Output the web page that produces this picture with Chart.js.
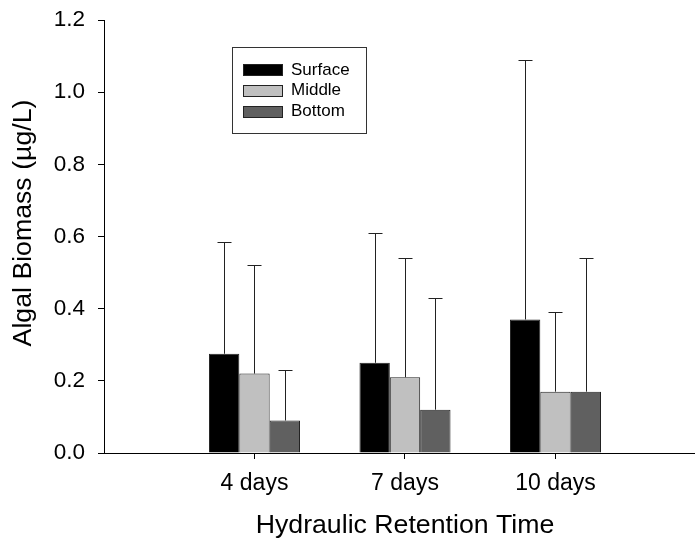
<!DOCTYPE html>
<html>
<head>
<meta charset="utf-8">
<script src="https://cdn.jsdelivr.net/npm/chart.js@4/dist/chart.umd.min.js"></script>
<style>
  html, body { margin: 0; padding: 0; background: #fff; overflow: hidden; }
</style>
</head>
<body>
<canvas id="chart" width="695" height="542"></canvas>
<script>
// ===== DATA =====
const categories = ["4 days", "7 days", "10 days"];
const categoryX = [1, 2, 3];
const seriesNames = ["Surface", "Middle", "Bottom"];
const surface = [0.275, 0.25, 0.37];
const middle = [0.22, 0.21, 0.17];
const bottom = [0.09, 0.12, 0.17];
const surfaceErr = [0.31, 0.36, 0.72];
const middleErr = [0.30, 0.33, 0.22];
const bottomErr = [0.14, 0.31, 0.37];
const yTicks = [0, 0.2, 0.4, 0.6, 0.8, 1.0, 1.2];
const colors = ["#000000", "#c0c0c0", "#606060"];
const xTitle = "Hydraulic Retention Time";
const yTitle = "Algal Biomass (µg/L)";

const FONT = "'Liberation Sans', Arial, sans-serif";

function points(values){
    return values.map((v, i) => ({ x: categoryX[i], y: v }));
}

// ===== ERROR BARS (upper only) =====
const errorBars = {
    id: "errorBars",
    afterDatasetsDraw(chart){
        const ctx = chart.ctx;
        const yScale = chart.scales.y;
        ctx.save();
        ctx.strokeStyle = "#222";
        ctx.lineWidth = 1;
        chart.data.datasets.forEach((ds, di) => {
            const meta = chart.getDatasetMeta(di);
            meta.data.forEach((bar, i) => {
                const top = Math.round(yScale.getPixelForValue(ds.data[i].y + ds.errors[i])) + 0.5;
                const x = Math.round(bar.x) + 0.5;
                ctx.beginPath();
                ctx.moveTo(x, bar.y);
                ctx.lineTo(x, top);
                ctx.moveTo(x - 7, top);
                ctx.lineTo(x + 7, top);
                ctx.stroke();
            });
        });
        ctx.restore();
    }
};

// ===== LEGEND BOX, TITLES, X AXIS LINE =====
const boxLegend = {
    id: "boxLegend",
    afterDraw(chart){
        const ctx = chart.ctx;
        ctx.save();
        ctx.strokeStyle = "#333";
        ctx.lineWidth = 1;
        ctx.strokeRect(232.5, 47.5, 134, 86);
        ctx.font = "17px " + FONT;
        ctx.textBaseline = "middle";
        chart.data.datasets.forEach((ds, i) => {
            const cy = 70 + i * 20.8;
            ctx.fillStyle = ds.backgroundColor;
            ctx.fillRect(243, Math.round(cy - 6), 40, 12);
            ctx.strokeStyle = "#222";
            ctx.strokeRect(243.5, Math.round(cy - 6) + 0.5, 39, 11);
            ctx.fillStyle = "#000";
            ctx.fillText(ds.label, 291, cy);
        });
        ctx.restore();

        // x axis line as a filled 1px strip out to the right edge
        const xs = chart.scales.x;
        const y0 = Math.round(chart.scales.y.getPixelForValue(0));
        ctx.save();
        ctx.fillStyle = "#000";
        ctx.fillRect(xs.left, y0, chart.canvas.width - xs.left, 1);

        // x title centred under the middle group
        ctx.font = "26.7px " + FONT;
        ctx.textAlign = "center";
        ctx.textBaseline = "middle";
        ctx.fillText(xTitle, xs.getPixelForValue(categoryX[1]), 526);
        ctx.restore();

        // y axis title, a little above the axis centre as in the original
        ctx.save();
        ctx.translate(24, 223);
        ctx.rotate(-Math.PI / 2);
        ctx.font = "26.7px " + FONT;
        ctx.textAlign = "center";
        ctx.textBaseline = "middle";
        ctx.fillStyle = "#000";
        ctx.fillText(yTitle, 0, 0);
        ctx.restore();
    }
};

// ===== CHART =====
new Chart(document.getElementById("chart"), {
    type: "bar",
    data: {
        datasets: [
            { label: seriesNames[0], data: points(surface), errors: surfaceErr, backgroundColor: colors[0] },
            { label: seriesNames[1], data: points(middle), errors: middleErr, backgroundColor: colors[1] },
            { label: seriesNames[2], data: points(bottom), errors: bottomErr, backgroundColor: colors[2] }
        ]
    },
    options: {
        responsive: false,
        animation: false,
        devicePixelRatio: 1,
        layout: { padding: { top: 20, left: 0, right: 0, bottom: 0 } },
        datasets: {
            bar: {
                categoryPercentage: 0.605,
                barPercentage: 1,
                borderColor: "#222",
                borderWidth: 1
            }
        },
        plugins: {
            legend: { display: false },
            tooltip: { enabled: false }
        },
        scales: {
            x: {
                type: "linear",
                min: 0,
                max: 3.927,
                offset: false,
                afterBuildTicks: s => { s.ticks = categoryX.map(v => ({ value: v })); },
                afterFit: s => { s.height = 89; s.paddingLeft = 0; s.paddingRight = 0; },
                grid: { drawOnChartArea: false, drawTicks: true, tickLength: 6, color: "#000", lineWidth: 1, offset: false },
                border: { display: true, color: "#000", width: 1 },
                ticks: {
                    color: "#000",
                    font: { family: FONT, size: 23 },
                    padding: 11,
                    maxRotation: 0,
                    autoSkip: false,
                    callback: v => categories[categoryX.indexOf(v)] ?? ""
                }
            },
            y: {
                min: 0,
                max: 1.2,
                afterBuildTicks: s => { s.ticks = yTicks.map(v => ({ value: v })); },
                afterFit: s => { s.width = 104; s.paddingTop = 0; s.paddingBottom = 0; },
                grid: { drawOnChartArea: false, drawTicks: true, tickLength: 6, color: "#000", lineWidth: 1 },
                border: { display: true, color: "#000", width: 1 },
                ticks: {
                    color: "#000",
                    font: { family: FONT, size: 22.5 },
                    padding: 13,
                    callback: v => v.toFixed(1)
                }
            }
        }
    },
    plugins: [errorBars, boxLegend]
});
</script>
</body>
</html>
